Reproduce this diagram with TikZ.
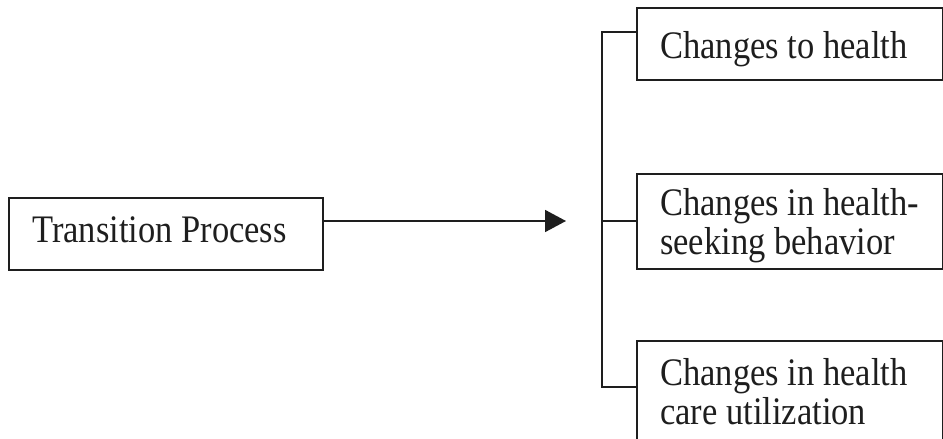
\documentclass[tikz,border=0pt]{standalone}
\usepackage{fontspec}
\setmainfont{Liberation Serif}
\usetikzlibrary{arrows.meta}
\definecolor{ink}{HTML}{1E1E1E}
% text set a little taller than the font's natural proportions
\newcommand{\tallertext}[1]{\scalebox{1}[1.13]{#1}}
\tikzset{
  frame/.style={draw=ink, line width=1.8pt, inner sep=0pt, anchor=north west},
  label/.style={text=ink, inner sep=0pt, anchor=base west, font=\fontsize{34.5}{38}\selectfont},
  link/.style={draw=ink, line width=1.8pt},
  arrowlink/.style={link, -{Triangle[length=21pt,width=22pt]}}
}
\begin{document}
\begin{tikzpicture}[x=1pt, y=-1pt]
  \useasboundingbox (0,0) rectangle (943,439);
  \clip (0,0) rectangle (943,439);

  % source box
  \node[frame, minimum width=314pt, minimum height=72pt] (trans) at (8,197) {};
  \node[label] (transtext) at (32,242) {\tallertext{Transition Process}};

  % outcome boxes
  \node[frame, minimum width=306pt, minimum height=72pt] (b1) at (636,7) {};
  \node[frame, minimum width=306pt, minimum height=95pt] (b2) at (636,173) {};
  \node[frame, minimum width=306pt, minimum height=120pt] (b3) at (636,340) {};

  \node[label] (t1) at (660,58) {\tallertext{Changes to health}};
  \node[label] (t2a) at (660,215) {\tallertext{Changes in health-}};
  \node[label] (t2b) at (660,254) {\tallertext{seeking behavior}};
  \node[label] (t3a) at (660,385) {\tallertext{Changes in health}};
  \node[label] (t3b) at (660,424) {\tallertext{care utilization}};

  % bracket joining the outcomes
  \coordinate (jt) at (602,32);
  \coordinate (jm) at (602,221);
  \coordinate (jb) at (602,387);
  \coordinate (tip) at (566,221);

  \draw[link] (b1.west |- jt) -- (jt) -- (jb) -- (b3.west |- jb);
  \draw[link] (jm) -- (b2.west |- jm);

  % main arrow
  \draw[arrowlink] (trans.east |- tip) -- (tip);
\end{tikzpicture}
\end{document}
